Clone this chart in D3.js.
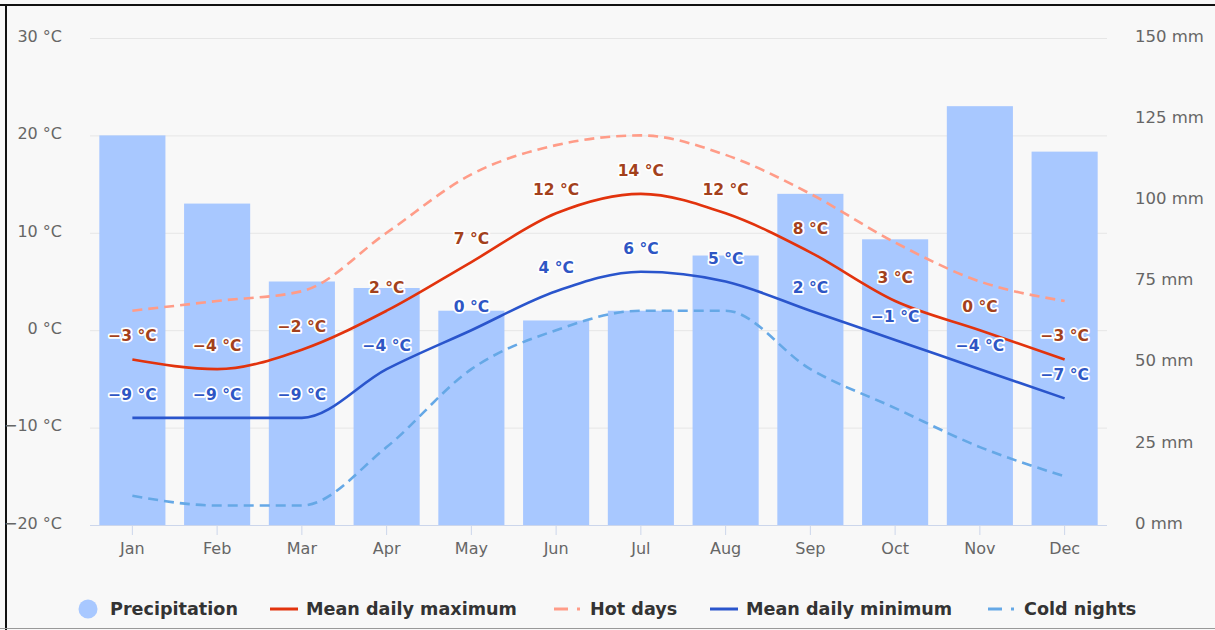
<!DOCTYPE html>
<html>
<head>
<meta charset="utf-8">
<script src="https://cdn.jsdelivr.net/npm/d3@7"></script>
<style>
  html, body { margin: 0; padding: 0; background: #fff; }
  svg { display: block; font-family: "DejaVu Sans", "Noto Sans", sans-serif; }
</style>
</head>
<body>
<div id="chart"></div>
<script>
const months = ['Jan', 'Feb', 'Mar', 'Apr', 'May', 'Jun', 'Jul', 'Aug', 'Sep', 'Oct', 'Nov', 'Dec'];
const precipitation = [120, 99, 75, 73, 66, 63, 66, 83, 102, 88, 129, 115];
const meanMax = [-3, -4, -2, 2, 7, 12, 14, 12, 8, 3, 0, -3];
const hotDays = [2, 3, 4, 10, 16, 19, 20, 18, 14, 9, 5, 3];
const meanMin = [-9, -9, -9, -4, 0, 4, 6, 5, 2, -1, -4, -7];
const coldNights = [-17, -18, -18, -12, -4, 0, 2, 2, -4, -8, -12, -15];
const tempTicks = [-20, -10, 0, 10, 20, 30];
const precTicks = [0, 25, 50, 75, 100, 125, 150];

const W = 1215, H = 630;
const margin = {top: 38, bottom: 105, left: 90, right: 108};

const svg = d3.select('#chart').append('svg').attr('width', W).attr('height', H);

// background and frame
svg.append('rect').attr('x', 0).attr('y', 0).attr('width', W).attr('height', H).attr('fill', '#f8f8f8');
svg.append('line').attr('x1', 0).attr('x2', W).attr('y1', 5).attr('y2', 5).attr('stroke', '#111').attr('stroke-width', 2);
svg.append('line').attr('x1', 6).attr('x2', 6).attr('y1', 4).attr('y2', H).attr('stroke', '#111').attr('stroke-width', 2);
svg.append('line').attr('x1', 0).attr('x2', W).attr('y1', 628.5).attr('y2', 628.5).attr('stroke', '#999').attr('stroke-width', 1);

const x = d3.scaleBand().domain(months).range([margin.left, W - margin.right]).paddingInner(0.22).paddingOuter(0.11);
const xc = d => x(d) + x.bandwidth() / 2;
const yT = d3.scaleLinear().domain([-20, 30]).range([H - margin.bottom, margin.top]);
const yP = d3.scaleLinear().domain([0, 150]).range([H - margin.bottom, margin.top]);
const fmt = d => (d < 0 ? '\u2212' + Math.abs(d) : d) + ' °C';

// grid
svg.append('g').selectAll('line').data(tempTicks.slice(1)).enter().append('line')
  .attr('x1', margin.left).attr('x2', W - margin.right)
  .attr('y1', d => yT(d) + 0.5).attr('y2', d => yT(d) + 0.5)
  .attr('stroke', '#e6e6e6');

// bars
svg.append('g').selectAll('rect').data(precipitation).enter().append('rect')
  .attr('x', (d, i) => x(months[i]))
  .attr('y', d => yP(d))
  .attr('width', x.bandwidth())
  .attr('height', d => yP(0) - yP(d))
  .attr('fill', '#a8c8ff');

// x axis
const xAxis = d3.axisBottom(x).tickSize(10).tickPadding(8);
const gx = svg.append('g').attr('transform', 'translate(0,' + (H - margin.bottom) + ')').call(xAxis);
gx.select('.domain').attr('stroke', '#ccd6eb').attr('d', 'M' + margin.left + ',0.5H' + (W - margin.right));
gx.selectAll('.tick line').attr('stroke', '#ccd6eb');
gx.selectAll('text').attr('fill', '#666').attr('font-size', 16).attr('font-family', 'DejaVu Sans');

// left axis
const gl = svg.append('g').attr('transform', 'translate(' + (margin.left - 25) + ',0)')
  .call(d3.axisLeft(yT).tickValues(tempTicks).tickSize(0).tickFormat(fmt));
gl.select('.domain').remove();
gl.selectAll('text').attr('fill', '#666').attr('font-size', 16).attr('font-family', 'DejaVu Sans').attr('dy', '0.2em');

// right axis
const gr = svg.append('g').attr('transform', 'translate(' + (W - margin.right + 25) + ',0)')
  .call(d3.axisRight(yP).tickValues(precTicks).tickSize(0).tickFormat(d => d + ' mm'));
gr.select('.domain').remove();
gr.selectAll('text').attr('fill', '#666').attr('font-size', 16.5).attr('font-family', 'DejaVu Sans').attr('dy', '0.2em');

// lines
const line = d3.line().x((d, i) => xc(months[i])).y(d => yT(d)).curve(d3.curveMonotoneX);
const series = [
  {name: 'Hot days', values: hotDays, color: '#ff9c88', dash: '10,6'},
  {name: 'Cold nights', values: coldNights, color: '#65a8e6', dash: '10,6'},
  {name: 'Mean daily maximum', values: meanMax, color: '#e2330d', dash: null},
  {name: 'Mean daily minimum', values: meanMin, color: '#2a55cc', dash: null}
];
series.forEach(s => {
  svg.append('path').datum(s.values).attr('d', line)
    .attr('fill', 'none').attr('stroke', s.color).attr('stroke-width', 2.6)
    .attr('stroke-dasharray', s.dash);
});

// data labels
[{values: meanMax, color: '#a3411c'}, {values: meanMin, color: '#2e56c4'}].forEach(s => {
  const g = svg.append('g').attr('font-size', 15.5).attr('font-weight', 'bold').attr('text-anchor', 'middle');
  g.selectAll('text.halo').data(s.values).enter().append('text')
    .attr('x', (d, i) => xc(months[i])).attr('y', d => yT(d) - 18)
    .attr('fill', 'none').attr('stroke', '#fff').attr('stroke-width', 3.5).attr('stroke-linejoin', 'round')
    .text(fmt);
  g.selectAll('text.lab').data(s.values).enter().append('text')
    .attr('x', (d, i) => xc(months[i])).attr('y', d => yT(d) - 18)
    .attr('fill', s.color)
    .text(fmt);
});

// legend
const legend = [
  {name: 'Precipitation', type: 'circle', color: '#a8c8ff', x: 79},
  {name: 'Mean daily maximum', type: 'line', color: '#e2330d', x: 270},
  {name: 'Hot days', type: 'dash', color: '#ff9c88', x: 554},
  {name: 'Mean daily minimum', type: 'line', color: '#2a55cc', x: 710},
  {name: 'Cold nights', type: 'dash', color: '#65a8e6', x: 988}
];
const ly = 609;
legend.forEach(l => {
  const g = svg.append('g');
  let tx;
  if (l.type === 'circle') {
    g.append('circle').attr('cx', l.x + 9).attr('cy', ly).attr('r', 9.5).attr('fill', l.color);
    tx = l.x + 31;
  } else {
    g.append('line').attr('x1', l.x).attr('x2', l.x + 28).attr('y1', ly).attr('y2', ly)
      .attr('stroke', l.color).attr('stroke-width', 3)
      .attr('stroke-dasharray', l.type === 'dash' ? '14,9,3,100' : null);
    tx = l.x + 36;
  }
  g.append('text').attr('x', tx).attr('y', ly).attr('dy', '0.36em')
    .attr('font-size', 17.6).attr('font-weight', 'bold').attr('fill', '#333').text(l.name);
});
</script>
</body>
</html>
